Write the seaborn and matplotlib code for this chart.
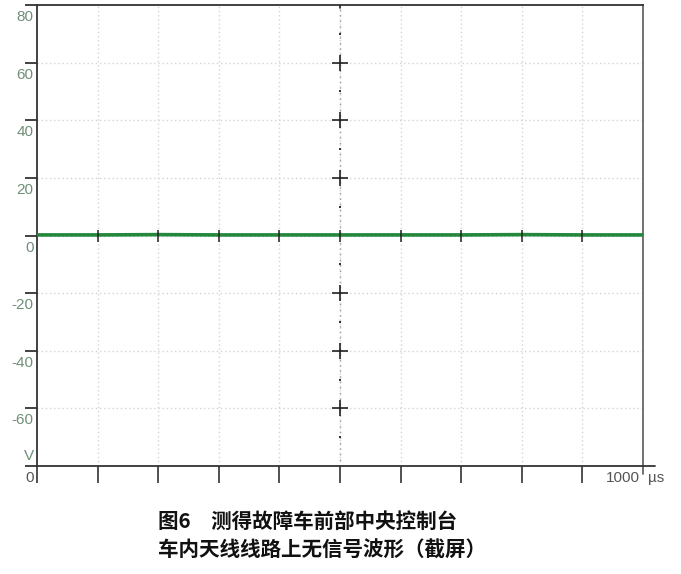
import matplotlib
matplotlib.use("Agg")
import matplotlib.pyplot as plt
import matplotlib.transforms as mtransforms
import seaborn as sns
import pandas as pd

# ---- data ----
time_us = [0, 100, 200, 300, 400, 500, 600, 700, 800, 900, 1000]
voltage_v = [0.2, 0.2, 0.3, 0.2, 0.2, 0.2, 0.2, 0.2, 0.3, 0.2, 0.2]
y_ticks = [-80, -60, -40, -20, 0, 20, 40, 60, 80]
y_tick_labels = ["", "-60", "-40", "-20", "0", "20", "40", "60", "80"]
x_ticks = [0, 100, 200, 300, 400, 500, 600, 700, 800, 900, 1000]
x_label_values = [0, 1000]
x_label_texts = ["0", "1000"]
cross_marks = [-60, -40, -20, 20, 40, 60]
cross_dots = [-70, -50, -30, -10, 10, 30, 50, 70]
caption_lines = ["图6　测得故障车前部中央控制台", "车内天线线路上无信号波形（截屏）"]
y_unit = "V"
x_unit = "µs"

sns.set_theme(style="white")
plt.rcParams['font.family'] = ['Liberation Sans', 'DejaVu Sans']

df = pd.DataFrame({"t": time_us, "v": voltage_v})

W, H = 681, 574
fig = plt.figure(figsize=(W / 100, H / 100), dpi=100)
L, R, T, B = 37, 643, 5, 466
ax = fig.add_axes([L / W, 1 - B / H, (R - L) / W, (B - T) / H])
ax.set_xlim(0, 1000)
ax.set_ylim(-80, 80)

# grid
for xv in x_ticks[1:-1]:
    ax.axvline(xv, color="#d4d4d4", lw=1, ls=(0, (1, 2)), zorder=1)
for yv in y_ticks[1:-1]:
    ax.axhline(yv, color="#d4d4d4", lw=1, ls=(0, (1, 2)), zorder=1)

# center crosshair (darker dotted)
ax.axvline(500, color="#9a9a9a", lw=1, ls=(0, (1, 3)), zorder=1.5)
ax.plot([500] * len(cross_marks), cross_marks, ls="none", marker="+",
        ms=11, mew=1.2, color="#222222", zorder=3)
ax.plot([500] * len(cross_dots), cross_dots, ls="none", marker="s",
        ms=1.6, mew=0, color="#333333", zorder=3)

# signal
sns.lineplot(data=df, x="t", y="v", ax=ax, color="#23883c", lw=2.6, zorder=4)
ax.set_xlabel("")
ax.set_ylabel("")

# small ticks along the zero line at each gridline
ax.plot(x_ticks[1:-1], [0] * (len(x_ticks) - 2), ls="none", marker="|",
        ms=9, mew=1.1, color="#222222", zorder=5)
ax.plot([500, 500], [79, 80], color="#222222", lw=1.2, zorder=5)

# spines
for s in ["left", "right", "top", "bottom"]:
    ax.spines[s].set_visible(True)
    ax.spines[s].set_color("#333333")
    ax.spines[s].set_linewidth(1.3)
ax.spines["right"].set_color("#666666")

# y ticks
ax.set_yticks(y_ticks)
ax.set_yticklabels(y_tick_labels)
ax.tick_params(axis="y", direction="out", length=9, width=1.3, color="#333333",
               pad=-6.5, labelsize=11, labelcolor="#6f8f78", left=True)
off = mtransforms.ScaledTranslation(0, -12 / 100, fig.dpi_scale_trans)
for lab in ax.get_yticklabels():
    lab.set_transform(lab.get_transform() + off)
    lab.set_verticalalignment("center")

# x ticks
ax.set_xticks(x_ticks[:-1])
ax.set_xticklabels([""] * (len(x_ticks) - 1))
ax.tick_params(axis="x", direction="out", length=12.5, width=1.2, color="#333333",
               bottom=True)

# extend x axis to right
ax.plot([1.0, 1.02], [0, 0], transform=ax.transAxes, color="#333333", lw=1.3, clip_on=False)
ax.plot([1.0, 1.0], [0, -0.017], transform=ax.transAxes, color="#666666", lw=1.3, clip_on=False)

# x labels
tr = mtransforms.blended_transform_factory(ax.transData, ax.transAxes)
for xv, txt in zip(x_label_values, x_label_texts):
    ax.text(xv, -0.01, txt, transform=tr + mtransforms.ScaledTranslation(-3 / 100, 0, fig.dpi_scale_trans),
            ha="right", va="top", fontsize=11, color="#555555")
ax.text(1.0, -0.01, x_unit, transform=ax.transAxes + mtransforms.ScaledTranslation(5 / 100, 0, fig.dpi_scale_trans),
        ha="left", va="top", fontsize=11, color="#555555")
ax.text(0, 0.006, y_unit, transform=ax.transAxes + mtransforms.ScaledTranslation(-3 / 100, 0, fig.dpi_scale_trans),
        ha="right", va="bottom", fontsize=11, color="#6f8f78")

# caption
for i, line in enumerate(caption_lines):
    fig.text(158 / W, 1 - (521 + 29 * i) / H, line, ha="left", va="center",
             fontsize=14.8, fontweight="bold", color="#111111",
             family=["Noto Sans CJK SC", "DejaVu Sans"])

fig.savefig("out.png", dpi=100)
